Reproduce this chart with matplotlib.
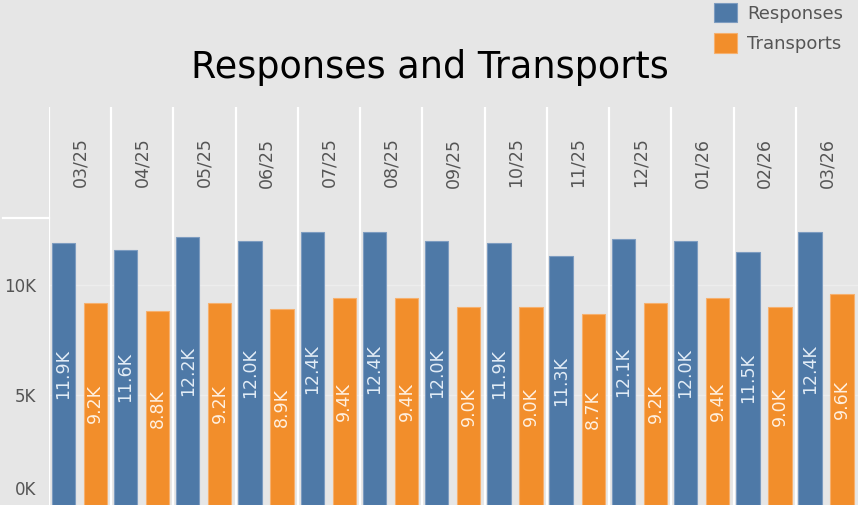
import matplotlib
matplotlib.use('Agg')
import matplotlib.pyplot as plt
from matplotlib.lines import Line2D
from matplotlib.transforms import ScaledTranslation
import numpy as np

# data (thousands)
months = ["03/25", "04/25", "05/25", "06/25", "07/25", "08/25", "09/25",
          "10/25", "11/25", "12/25", "01/26", "02/26", "03/26"]
responses = [11.9, 11.6, 12.2, 12.0, 12.4, 12.4, 12.0, 11.9, 11.3, 12.1, 12.0, 11.5, 12.4]
transports = [9.2, 8.8, 9.2, 8.9, 9.4, 9.4, 9.0, 9.0, 8.7, 9.2, 9.4, 9.0, 9.6]
series_names = ["Responses", "Transports"]

BG = '#e6e6e6'
BLUE = '#4e79a7'
ORANGE = '#f28e2b'
GREY_TXT = '#555555'

W, H = 858, 505
plt.rcParams['font.family'] = ['DejaVu Sans']

fig = plt.figure(figsize=(W / 100, H / 100), dpi=100, facecolor=BG)

# main plot area
ax = fig.add_axes([49 / W, 0, 809 / W, 287 / H])
ax.set_facecolor(BG)
x = np.arange(len(months))
bw = 0.375
b1 = ax.bar(x - 0.27, responses, width=bw, color=BLUE, edgecolor='#7d9cc0', linewidth=0.8, zorder=3)
b2 = ax.bar(x + 0.245, transports, width=bw, color=ORANGE, edgecolor='#f6b06e', linewidth=0.8, zorder=3)

for bar, v in zip(b1, responses):
    ax.text(bar.get_x() + bar.get_width() / 2, v / 2, f'{v:.1f}K', rotation=90,
            ha='center', va='center', fontsize=12.5, color='#e2ecf6', zorder=4)
for bar, v in zip(b2, transports):
    ax.text(bar.get_x() + bar.get_width() / 2, v / 2, f'{v:.1f}K', rotation=90,
            ha='center', va='center', fontsize=12.5, color='#fff0e0', zorder=4)

ax.set_xlim(-0.5, len(months) - 0.5)
ax.set_ylim(0, 13.05)
for i in range(len(months)):
    ax.axvline(i - 0.5, color='white', lw=1.6, zorder=2)
for g in [5, 10]:
    ax.axhline(g, color='#ededed', lw=1, zorder=1)

ax.set_xticks([])
ax.set_yticks([0, 5, 10])
ax.set_yticklabels(['0K', '5K', '10K'], fontsize=12, color=GREY_TXT)
ax.tick_params(axis='y', length=0, pad=9)
for s in ax.spines.values():
    s.set_visible(False)
lab0 = ax.get_yticklabels()[0]
lab0.set_transform(lab0.get_transform() + ScaledTranslation(0, 12 / 72, fig.dpi_scale_trans))

# header with month labels
hax = fig.add_axes([49 / W, 287 / H, 809 / W, 111 / H])
hax.set_xlim(-0.5, len(months) - 0.5)
hax.set_ylim(0, 1)
hax.axis('off')
for i, m in enumerate(months):
    hax.axvline(i - 0.5, color='white', lw=1.6)
    hax.text(i, 0.5, m, rotation=90, ha='center', va='center', fontsize=12.5, color=GREY_TXT)

fig.add_artist(Line2D([3 / W, 49 / W], [287 / H, 287 / H], color='white', lw=1.6))

fig.text(430 / W, 1 - 68 / H, 'Responses and Transports', ha='center', va='center',
         fontsize=26.3, color='black')

fig.legend([b1, b2], series_names, loc='upper left', bbox_to_anchor=(714 / W, 1 - 3 / H),
           frameon=False, fontsize=13, labelcolor=GREY_TXT, handlelength=1.27, handleheight=1.27,
           handletextpad=0.55, labelspacing=0.58, borderpad=0, borderaxespad=0)

fig.savefig('out.png', dpi=100, facecolor=BG)
